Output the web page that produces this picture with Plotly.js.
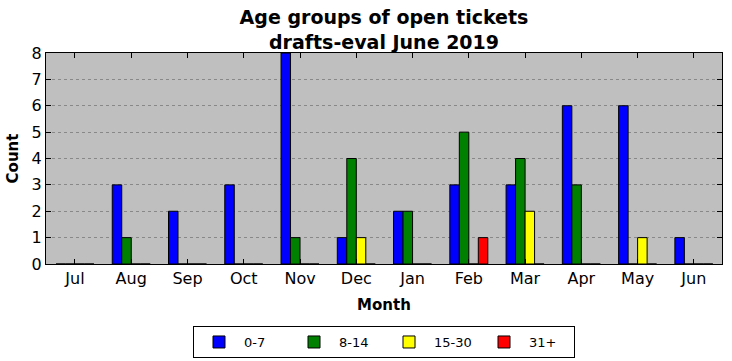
<!DOCTYPE html>
<html><head><meta charset="utf-8">
<script src="https://cdn.plot.ly/plotly-3.0.1.min.js"></script>
<style>html,body{margin:0;padding:0;background:#fff}</style>
</head><body>
<div id="chart" style="width:732px;height:361px"></div>
<script>
const months = ["Jul","Aug","Sep","Oct","Nov","Dec","Jan","Feb","Mar","Apr","May","Jun"];
const seriesNames = ["0-7","8-14","15-30","31+"];
const age0_7   = [0,3,2,3,8,1,2,3,3,6,6,1];
const age8_14  = [0,1,0,0,1,4,2,5,4,3,0,0];
const age15_30 = [0,0,0,0,0,1,0,0,2,0,1,0];
const age31p   = [0,0,0,0,0,0,0,1,0,0,0,0];
const colors = ["#0000ff","#008000","#ffff00","#ff0000"];
const values = [age0_7, age8_14, age15_30, age31p];

const traces = values.map((v,i)=>({
  type:'bar', name:seriesNames[i], x:months, y:v,
  marker:{color:colors[i], line:{color:'#000', width:1}}
}));

const font = {family:'DejaVu Sans', color:'#000'};
const layout = {
  width:732, height:361,
  margin:{l:46, r:10, t:53, b:97, autoexpand:false},
  paper_bgcolor:'#fff', plot_bgcolor:'#bfbfbf',
  font:Object.assign({size:16}, font),
  barmode:'group', bargap:0.325, bargroupgap:0,
  title:{text:'<b>Age groups of open tickets<br>drafts-eval June 2019</b>',
    font:{family:'DejaVu Sans', size:19, color:'#000'},
    x:0.5, xref:'paper', xanchor:'center', yref:'paper', y:1, yanchor:'bottom', pad:{b:29}},
  xaxis:{type:'category', range:[-0.515,11.5], showline:true, linecolor:'#000', linewidth:1, mirror:'ticks',
    ticks:'inside', ticklen:5, tickcolor:'#000', showgrid:false, zeroline:false, automargin:false,
    tickfont:{size:16}, title:{text:'<b>Month</b>', font:{size:15}, standoff:12}},
  yaxis:{range:[0,8], dtick:1, showline:true, linecolor:'#000', linewidth:1, mirror:'ticks',
    ticks:'inside', ticklen:5, tickcolor:'#000', showgrid:true, gridcolor:'#888', griddash:'dot', gridwidth:1,
    zeroline:false, automargin:false, tickfont:{size:16}, title:{text:'<b>Count</b>', font:{size:15}, standoff:9}},
  legend:{orientation:'h', x:0.5, xanchor:'center', y:-0.294, yanchor:'top',
    bordercolor:'#000', borderwidth:1, bgcolor:'#fff', font:{size:13}, traceorder:'normal',
    itemwidth:40, entrywidth:40},
  showlegend:true
};
Plotly.newPlot('chart', traces, layout, {displayModeBar:false, staticPlot:true});
</script>
</body></html>
